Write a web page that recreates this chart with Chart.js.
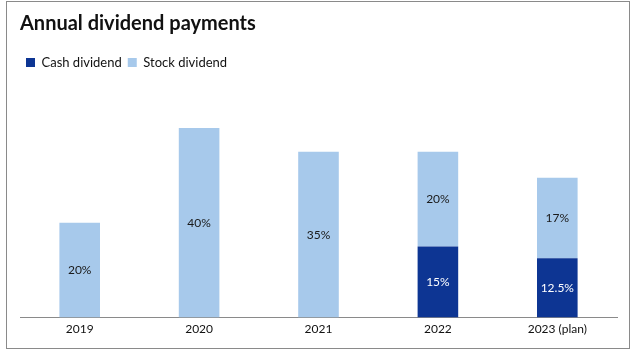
<!DOCTYPE html>
<html>
<head>
<meta charset="utf-8">
<script src="https://cdn.jsdelivr.net/npm/chart.js@4"></script>
<style>
  html, body { margin: 0; padding: 0; background: #fff; }
  #frame {
    position: absolute; left: 6px; top: 1px;
    width: 622px; height: 346px;
    border: 1px solid #8a8a8a;
  }
  #myChart { display: block; }
</style>
</head>
<body>
<div id="frame"><canvas id="myChart" width="622" height="346"></canvas></div>
<script>
const years = ['2019', '2020', '2021', '2022', '2023 (plan)'];
const cashDividend = [null, null, null, 15, 12.5];
const stockDividend = [20, 40, 35, 20, 17];
const yMax = 40;

document.addEventListener('DOMContentLoaded', () => {
    const ctx = document.getElementById('myChart');

    // extra room under the legend
    const legendSpacer = {
        id: 'legendSpacer',
        beforeInit(chart) {
            const origFit = chart.legend.fit;
            chart.legend.fit = function () {
                origFit.bind(chart.legend)();
                this.height += 49;
            };
        }
    };

    // value labels in the middle of each segment
    const segmentLabels = {
        id: 'segmentLabels',
        afterDatasetsDraw(chart) {
            const c = chart.ctx;
            c.save();
            c.font = '12px Lato, "Open Sans", sans-serif';
            c.textAlign = 'center';
            c.textBaseline = 'middle';
            chart.data.datasets.forEach((ds, i) => {
                const meta = chart.getDatasetMeta(i);
                meta.data.forEach((bar, j) => {
                    const v = ds.data[j];
                    if (v === null || v === undefined) return;
                    c.fillStyle = ds.labelColor;
                    c.fillText(v + '%', bar.x, (bar.y + bar.base) / 2);
                });
            });
            c.restore();
        }
    };

    new Chart(ctx, {
        type: 'bar',
        data: {
            labels: years,
            datasets: [
                {
                    label: 'Cash dividend',
                    data: cashDividend,
                    backgroundColor: '#0d3593',
                    labelColor: '#ffffff'
                },
                {
                    label: 'Stock dividend',
                    data: stockDividend,
                    backgroundColor: '#a7c9eb',
                    labelColor: '#1a1a1a'
                }
            ]
        },
        options: {
            responsive: false,
            animation: false,
            datasets: {
                bar: { categoryPercentage: 1, barPercentage: 0.34 }
            },
            layout: { padding: { left: 13, right: 12, top: 0, bottom: 8 } },
            plugins: {
                title: {
                    display: true,
                    text: 'Annual dividend payments',
                    align: 'start',
                    color: '#111',
                    font: { family: 'Lato, "Open Sans", sans-serif', size: 20, weight: 'bold' },
                    padding: { top: 10, bottom: 14 }
                },
                legend: {
                    display: true,
                    align: 'start',
                    labels: {
                        color: '#111',
                        boxWidth: 9,
                        boxHeight: 9,
                        padding: 6,
                        font: { family: 'Lato, "Open Sans", sans-serif', size: 13 }
                    }
                },
                tooltip: { enabled: false }
            },
            scales: {
                x: {
                    stacked: true,
                    grid: { display: false, drawTicks: false },
                    border: { color: '#8a8a8a', width: 1 },
                    ticks: {
                        color: '#111',
                        padding: 4,
                        font: { family: 'Lato, "Open Sans", sans-serif', size: 12 }
                    }
                },
                y: {
                    stacked: true,
                    display: false,
                    beginAtZero: true,
                    max: yMax
                }
            }
        },
        plugins: [legendSpacer, segmentLabels]
    });
});
</script>
</body>
</html>
